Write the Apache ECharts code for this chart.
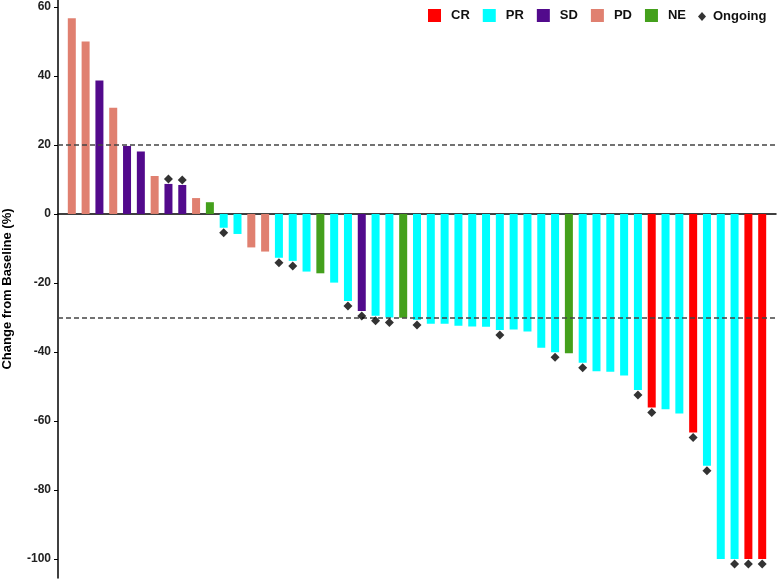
<!DOCTYPE html>
<html>
<head>
<meta charset="utf-8">
<script src="https://cdn.jsdelivr.net/npm/echarts@6/dist/echarts.min.js"></script>
<style>
html, body { margin: 0; padding: 0; background: #fff; }
#chart { width: 777px; height: 579px; }
</style>
</head>
<body>
<div id="chart"></div>
<script>
// best response per patient, sorted as in the waterfall
var responses = ['PD','PD','SD','PD','SD','SD','PD','SD','SD','PD','NE',
    'PR','PR','PD','PD','PR','PR','PR','NE','PR','PR','SD','PR','PR','NE',
    'PR','PR','PR','PR','PR','PR','PR','PR','PR','PR','PR','NE','PR','PR',
    'PR','PR','PR','CR','PR','PR','CR','PR','PR','PR','CR','CR'];
var changes = [56.7, 50.0, 38.7, 30.8, 19.7, 18.1, 11.0, 8.7, 8.4, 4.6, 3.4,
    -4.0, -5.8, -9.7, -10.9, -12.7, -13.6, -16.7, -17.2, -19.9, -25.2, -28.1, -29.5, -30.0, -30.1,
    -30.7, -31.8, -31.8, -32.4, -32.6, -32.7, -33.6, -33.5, -34.1, -38.8, -40.1, -40.4, -43.1, -45.6,
    -45.7, -46.8, -51.0, -56.1, -56.6, -57.8, -63.3, -73.0, -100, -100, -100, -100];
var ongoing = [0,0,0,0,0,0,0,1,1,0,0,
    1,0,0,0,1,1,0,0,0,1,1,1,1,0,
    1,0,0,0,0,0,1,0,0,0,1,0,1,0,
    0,0,1,1,0,0,1,1,0,1,1,1];
var groups = ['CR', 'PR', 'SD', 'PD', 'NE'];
var groupColors = ['#FF0000', '#00FFFF', '#520A8C', '#E08070', '#44A01C'];
var yTicks = [-100, -80, -60, -40, -20, 0, 20, 40, 60];
var refLines = [20, -30];

var series = [];
groups.forEach(function (g, k) {
    var data = [];
    for (var i = 0; i < changes.length; i++) {
        if (responses[i] === g) data.push([i + 1, changes[i]]);
    }
    series.push({
        name: g,
        type: 'bar',
        barWidth: 8,
        barGap: '-100%',
        itemStyle: { color: groupColors[k] },
        data: data
    });
});

var ongoingData = [];
for (var i = 0; i < changes.length; i++) {
    if (ongoing[i]) {
        ongoingData.push({
            value: [i + 1, changes[i]],
            symbolOffset: [0, changes[i] < 0 ? 5 : -5]
        });
    }
}
series.push({
    name: 'Ongoing',
    type: 'scatter',
    symbol: 'diamond',
    symbolSize: 9,
    itemStyle: { color: '#000' },
    z: 5,
    data: ongoingData
});

// dashed reference lines at +20% and -30%
series[0].markLine = {
    silent: true,
    symbol: 'none',
    label: { show: false },
    lineStyle: { color: '#444', type: [5, 3], width: 1.5 },
    data: refLines.map(function (v) { return { yAxis: v }; })
};

var chart = echarts.init(document.getElementById('chart'));
chart.setOption({
    animation: false,
    textStyle: { fontFamily: 'Liberation Sans, Arial, sans-serif' },
    legend: [{
        data: groups,
        left: 423,
        top: 4,
        itemWidth: 13,
        itemHeight: 13,
        itemGap: 13,
        icon: 'rect',
        textStyle: { fontSize: 13, fontWeight: 'bold', color: '#111', padding: [0, 0, 0, 5] },
        selectedMode: false
    }, {
        data: [{ name: 'Ongoing', icon: 'diamond' }],
        left: 693,
        top: 5,
        itemWidth: 8,
        itemHeight: 9,
        textStyle: { fontSize: 13, fontWeight: 'bold', color: '#111', padding: [0, 0, 0, 2] },
        selectedMode: false
    }],
    grid: { left: 58, right: 1, top: 0, bottom: 1, outerBoundsMode: 'none', containLabel: false },
    xAxis: {
        type: 'value',
        min: 0,
        max: 52,
        axisLine: { onZero: true, lineStyle: { color: '#000', width: 1.5 } },
        axisTick: { show: false },
        axisLabel: { show: false },
        splitLine: { show: false }
    },
    yAxis: {
        type: 'value',
        min: -105.5,
        max: 62,
        name: 'Change from Baseline (%)',
        nameLocation: 'middle',
        nameGap: 44,
        nameTextStyle: { fontSize: 13, fontWeight: 'bold', color: '#000' },
        axisLine: { show: true, lineStyle: { color: '#000', width: 1.5 } },
        axisTick: { show: true, length: 4, customValues: yTicks, lineStyle: { color: '#000' } },
        axisLabel: { customValues: yTicks, fontSize: 12, fontWeight: 'bold', color: '#222', margin: 7 },
        splitLine: { show: false }
    },
    series: series
});
</script>
</body>
</html>
